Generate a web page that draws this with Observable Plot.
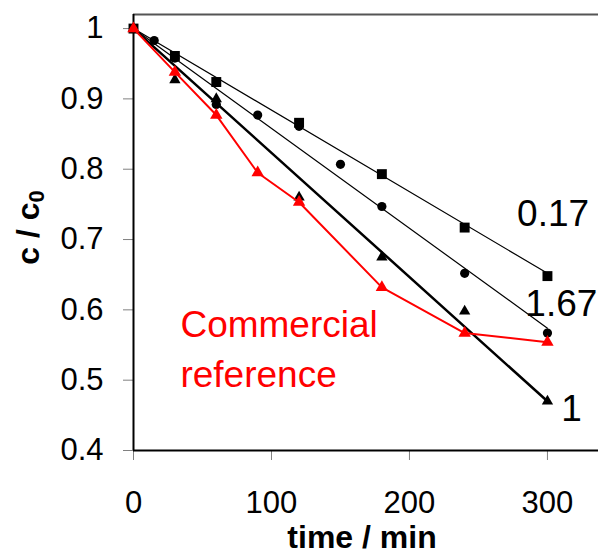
<!DOCTYPE html>
<html><head><meta charset="utf-8">
<script src="https://cdn.jsdelivr.net/npm/d3@7"></script>
<script src="https://cdn.jsdelivr.net/npm/@observablehq/plot@0.6"></script>
<style>body{margin:0;background:#fff} svg{display:block}</style>
</head><body><div id="chart"></div>
<script>
// Axis settings
const xDomain = [0, 337];
const yDomain = [0.4, 1.02];
const xTicks = [0, 100, 200, 300];
const yTicks = [0.4, 0.5, 0.6, 0.7, 0.8, 0.9, 1];

// Series "0.17" (squares)
const tSquare = [0, 30, 60, 120, 180, 240, 300];
const vSquare = [1, 0.961, 0.924, 0.866, 0.793, 0.717, 0.648];
// Series "1.67" (circles)
const tCircle = [0, 15, 30, 60, 90, 120, 150, 180, 240, 300];
const vCircle = [1, 0.983, 0.958, 0.892, 0.877, 0.861, 0.807, 0.747, 0.652, 0.567];
// Series "1" (black triangles)
const tTri = [0, 30, 60, 120, 180, 240, 300];
const vTri = [1, 0.927, 0.900, 0.760, 0.675, 0.598, 0.470];
// Commercial reference (red triangles)
const tRef = [0, 30, 60, 90, 120, 180, 240, 300];
const vRef = [1, 0.938, 0.877, 0.795, 0.753, 0.632, 0.567, 0.554];
// Linear fits
const fitT = [0, 300];
const fit017 = [1, 0.652];
const fit167 = [1, 0.574];
const fit1 = [1, 0.470];
// Annotations
const labelTexts = ["0.17", "1.67", "1"];
const labelT = [278, 284, 310];
const labelV = [0.736, 0.608, 0.459];
const refLabel = "Commercial\nreference";
const refLabelT = 34;
const refLabelV = 0.549;
const xLabel = "time / min";
const yLabel = "c / c0";

const zip = (t, v) => t.map((d, i) => ({t: d, v: v[i]}));
const squares = zip(tSquare, vSquare);
const circles = zip(tCircle, vCircle);
const tris = zip(tTri, vTri);
const ref = zip(tRef, vRef);
const f017 = zip(fitT, fit017);
const f167 = zip(fitT, fit167);
const f1 = zip(fitT, fit1);
const labels = labelTexts.map((s, i) => ({s, t: labelT[i], v: labelV[i]}));

const font = "'Liberation Sans', Arial, sans-serif";

const chart = Plot.plot({
  width: 598,
  height: 555,
  marginLeft: 133,
  marginRight: 0,
  marginTop: 14,
  marginBottom: 105,
  style: {fontFamily: font, background: "#fff", color: "#000", overflow: "visible"},
  x: {domain: xDomain},
  y: {domain: yDomain},
  marks: [
    Plot.axisX({ticks: xTicks, tickSize: 10, tickPadding: 30, stroke: "#808080", fill: "#000", fontSize: 31, tickFormat: d => String(d), label: null}),
    Plot.axisY({ticks: yTicks, tickSize: 10, tickPadding: 20, stroke: "#808080", fill: "#000", fontSize: 31, tickFormat: d => String(d), label: null}),
    Plot.ruleY([yDomain[1]], {stroke: "#555", strokeWidth: 2}),
    Plot.ruleX([xDomain[0]], {stroke: "#000", strokeWidth: 2}),
    Plot.ruleY([yDomain[0]], {stroke: "#000", strokeWidth: 2}),
    Plot.line(f017, {x: "t", y: "v", stroke: "#000", strokeWidth: 1.2}),
    Plot.line(f167, {x: "t", y: "v", stroke: "#000", strokeWidth: 1.2}),
    Plot.line(f1, {x: "t", y: "v", stroke: "#000", strokeWidth: 2.5}),
    Plot.dot(circles, {x: "t", y: "v", symbol: "circle", r: 4.6, fill: "#000"}),
    Plot.dot(squares, {x: "t", y: "v", symbol: "square", r: 5.6, fill: "#000"}),
    Plot.dot(tris, {x: "t", y: "v", symbol: "triangle", r: 4.2, fill: "#000"}),
    Plot.line(ref, {x: "t", y: "v", stroke: "#ff0000", strokeWidth: 2}),
    Plot.dot(ref, {x: "t", y: "v", symbol: "triangle", r: 4.6, fill: "#ff0000"}),
    Plot.text(labels, {x: "t", y: "v", text: "s", textAnchor: "start", fontSize: 37, fill: "#000"}),
    Plot.text([refLabel], {x: () => refLabelT, y: () => refLabelV, text: d => d, textAnchor: "start", fontSize: 37, lineHeight: 1.35, fill: "#ff0000"}),
    Plot.text([xLabel], {text: d => d, frameAnchor: "bottom", lineAnchor: "middle", textAnchor: "middle", dy: 87, dx: -4, fontSize: 32, fontWeight: "bold", fill: "#000"}),
    Plot.text([yLabel], {text: d => d, frameAnchor: "left", textAnchor: "middle", lineAnchor: "middle", dx: -105, dy: -5, rotate: -90, fontSize: 32, fontWeight: "bold", fill: "#000"})
  ]
});

// subscript for c0
chart.querySelectorAll("text").forEach(el => {
  if (el.textContent === yLabel) {
    el.textContent = "";
    const ns = "http://www.w3.org/2000/svg";
    const a = document.createElementNS(ns, "tspan");
    a.textContent = "c / c";
    const b = document.createElementNS(ns, "tspan");
    b.textContent = "0";
    b.setAttribute("font-size", "22");
    b.setAttribute("dy", "5");
    el.appendChild(a); el.appendChild(b);
  }
});

document.getElementById("chart").appendChild(chart);
</script>
</body></html>
